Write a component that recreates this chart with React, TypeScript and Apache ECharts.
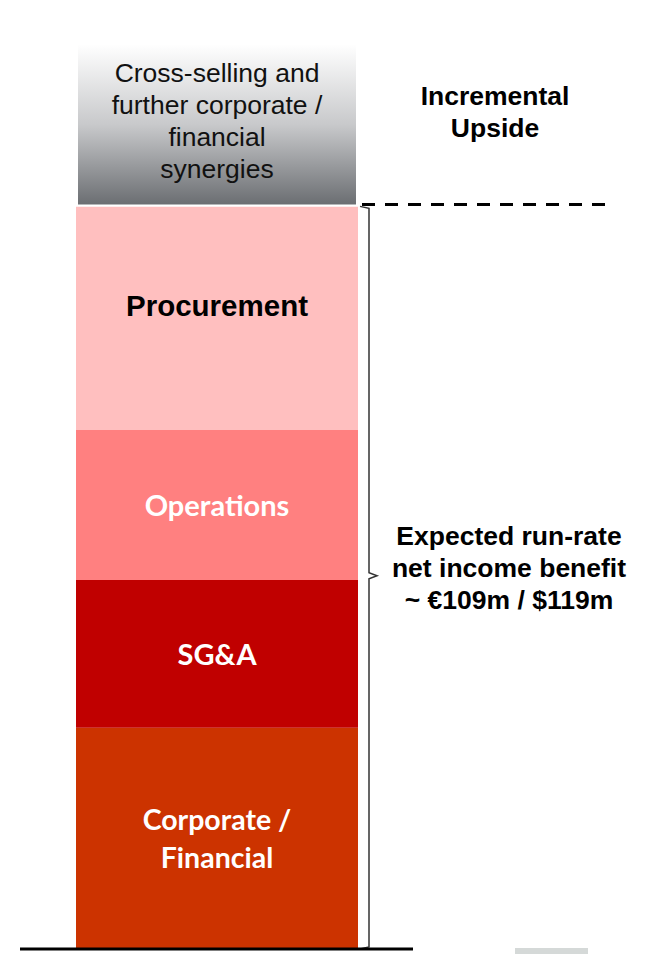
import React, { useEffect, useRef } from "react";
import * as echarts from "echarts";

const categories = ["Synergies"];
const segmentNames = ["Corporate /\nFinancial", "SG&A", "Operations", "Procurement"];
const corporateFinancial = [29.8];
const sgaValues = [19.9];
const operations = [20.2];
const procurement = [30.1];
const upside = [22];
const upsideLabel = "Cross-selling and\nfurther corporate /\nfinancial\nsynergies";
const upsideTitle = "Incremental\nUpside";
const benefitText = "Expected run-rate\nnet income benefit\n~ €109m / $119m";

const ARIAL = "'Liberation Sans', Arial, sans-serif";
const CAL = "Lato, 'Open Sans', sans-serif";

export default function App() {
  const ref = useRef<HTMLDivElement>(null);
  useEffect(() => {
    if (!ref.current) return;
    const chart = echarts.init(ref.current, null, { renderer: "svg" });
    const gridLeft = 76;
    const gridWidth = 282;
    const whiteLabel = (fs: number, lh: number) => ({
      show: true,
      position: "inside",
      color: "#ffffff",
      fontFamily: CAL,
      fontWeight: "bold",
      fontSize: fs,
      lineHeight: lh,
    });
    chart.setOption({
      animation: false,
      grid: { left: gridLeft, width: gridWidth, top: 43, bottom: 5 },
      xAxis: { type: "category", data: categories, show: false },
      yAxis: { type: "value", min: 0, max: 122, show: false },
      series: [
        {
          type: "bar",
          stack: "s",
          data: corporateFinancial,
          barWidth: "100%",
          itemStyle: { color: "#CC3300" },
          label: { ...whiteLabel(28.5, 38), formatter: segmentNames[0] },
        },
        {
          type: "bar",
          stack: "s",
          data: sgaValues,
          itemStyle: { color: "#C00000" },
          label: { ...whiteLabel(29, 32), formatter: segmentNames[1] },
        },
        {
          type: "bar",
          stack: "s",
          data: operations,
          itemStyle: { color: "#FF8080" },
          label: { ...whiteLabel(29, 32), formatter: segmentNames[2] },
        },
        {
          type: "bar",
          stack: "s",
          data: procurement,
          itemStyle: { color: "#FFBFBF" },
          label: {
            show: true,
            position: "inside",
            formatter: segmentNames[3],
            color: "#000",
            fontFamily: ARIAL,
            fontWeight: "bold",
            fontSize: 29.5,
            offset: [0, -13],
          },
        },
        {
          type: "bar",
          stack: "s",
          data: upside,
          itemStyle: {
            color: new echarts.graphic.LinearGradient(0, 0, 0, 1, [
              { offset: 0, color: "#ffffff" },
              { offset: 0.5, color: "#c8c9cb" },
              { offset: 1, color: "#6a6d71" },
            ]),
            borderColor: "#ffffff",
            borderWidth: 2,
          },
          label: {
            show: true,
            position: "inside",
            formatter: upsideLabel,
            color: "#111",
            fontFamily: ARIAL,
            fontSize: 26.5,
            lineHeight: 32,
            offset: [0, -4],
          },
        },
      ],
    });

    const total =
      corporateFinancial[0] + sgaValues[0] + operations[0] + procurement[0];
    const yTop = chart.convertToPixel({ yAxisIndex: 0 }, total) as number;
    const yBase = chart.convertToPixel({ yAxisIndex: 0 }, 0) as number;
    const yMid = (yTop + yBase) / 2;
    const bx = 369;
    chart.setOption({
      graphic: [
        {
          type: "line",
          shape: { x1: 362, y1: yTop - 2, x2: 608, y2: yTop - 2 },
          style: { stroke: "#000", lineWidth: 3, lineDash: [13, 10] },
          z: 10,
        },
        {
          type: "polyline",
          shape: {
            points: [
              [360, yTop],
              [bx, yTop + 2],
              [bx, yMid - 5],
              [bx + 8, yMid - 2],
              [bx, yMid + 1],
              [bx, yBase - 2],
              [360, yBase],
            ],
          },
          style: { stroke: "#333", lineWidth: 1.5, fill: null },
          z: 10,
        },
        {
          type: "line",
          shape: { x1: 20, y1: yBase, x2: 413, y2: yBase },
          style: { stroke: "#000", lineWidth: 3 },
          z: 11,
        },
        {
          type: "rect",
          shape: { x: 515, y: 948, width: 73, height: 6 },
          style: { fill: "#d5d9d8" },
        },
        {
          type: "text",
          x: 495,
          y: 112,
          style: {
            text: upsideTitle,
            fill: "#000",
            font: `bold 26.5px ${ARIAL}`,
            lineHeight: 32,
            align: "center",
            verticalAlign: "middle",
          },
        },
        {
          type: "text",
          x: 509,
          y: yMid - 10,
          style: {
            text: benefitText,
            fill: "#000",
            font: `bold 26.5px ${ARIAL}`,
            lineHeight: 32,
            align: "center",
            verticalAlign: "middle",
          },
        },
      ],
    });
    return () => chart.dispose();
  }, []);
  return (
    <div
      ref={ref}
      style={{ position: "fixed", left: 0, top: 0, width: 646, height: 954, background: "#fff" }}
    />
  );
}
